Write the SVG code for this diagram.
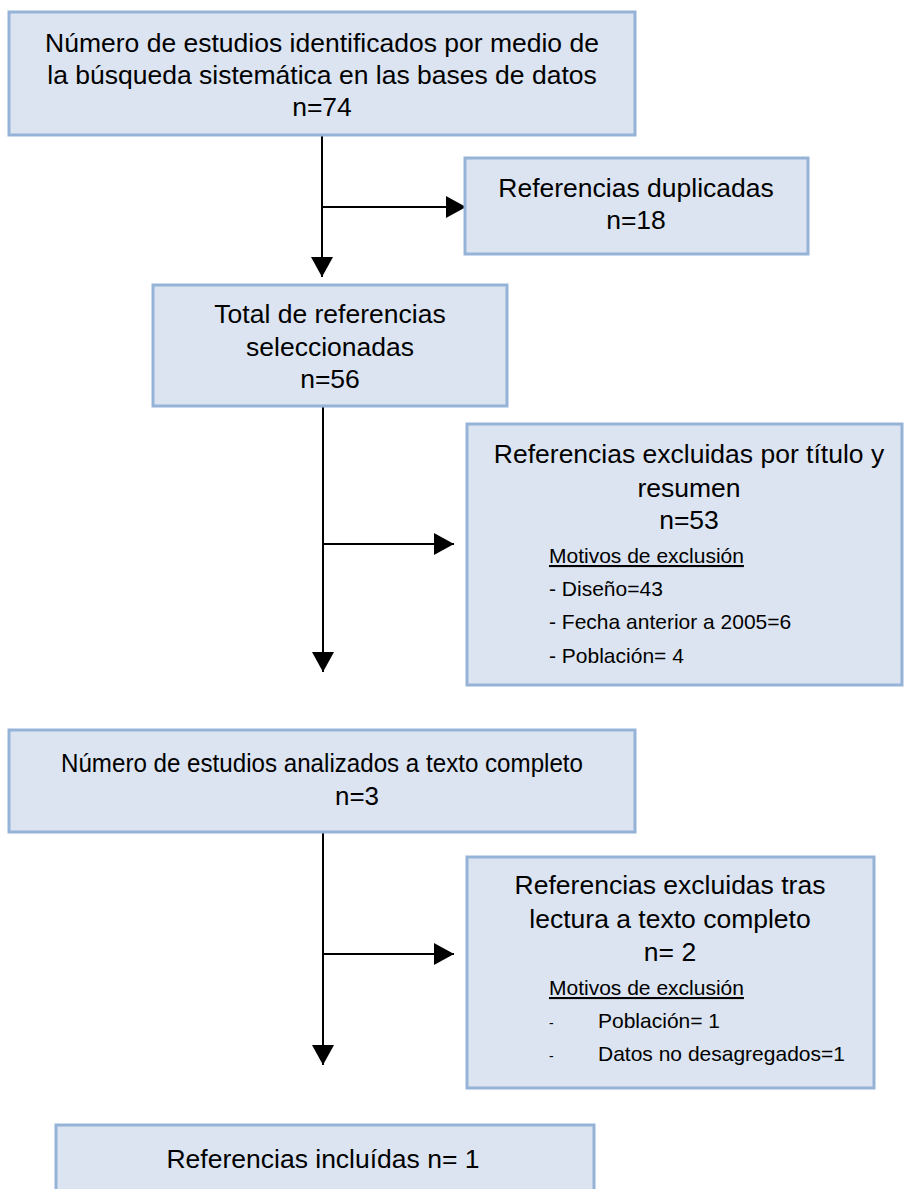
<svg xmlns="http://www.w3.org/2000/svg" width="904" height="1189" viewBox="0 0 904 1189">
<style>
.box{fill:#dbe4f0;stroke:#95b3d7;stroke-width:3}
.t{font-family:"Liberation Sans",Arial,sans-serif;font-size:26.5px;fill:#000;text-anchor:middle}
.s{font-family:"Liberation Sans",Arial,sans-serif;font-size:21px;fill:#000}
.d{font-family:"Liberation Sans",Arial,sans-serif;font-size:14px;fill:#000}
.c{fill:none;stroke:#000;stroke-width:2}
</style>
<defs>
<marker id="ah" viewBox="0 0 20 22" refX="20" refY="11" markerWidth="20" markerHeight="22" markerUnits="userSpaceOnUse" orient="auto"><path d="M0,0 L20,11 L0,22 z" fill="#000"/></marker>
</defs>
<g id="connectors">
<path class="c" d="M322,135 V277" marker-end="url(#ah)"/>
<path class="c" d="M322,207 H466" marker-end="url(#ah)"/>
<path class="c" d="M323,406 V672" marker-end="url(#ah)"/>
<path class="c" d="M323,544 H454" marker-end="url(#ah)"/>
<path class="c" d="M323,832 V1065" marker-end="url(#ah)"/>
<path class="c" d="M323,954 H454" marker-end="url(#ah)"/>
</g>
<g id="n1">
<rect class="box" x="9" y="12" width="626" height="123"/>
<text class="t" x="322" y="52">Número de estudios identificados por medio de</text>
<text class="t" x="322" y="84">la búsqueda sistemática en las bases de datos</text>
<text class="t" x="322" y="116">n=74</text>
</g>
<g id="n2">
<rect class="box" x="465" y="158" width="343" height="96"/>
<text class="t" x="636" y="197">Referencias duplicadas</text>
<text class="t" x="636" y="229">n=18</text>
</g>
<g id="n3">
<rect class="box" x="153" y="285" width="354" height="121"/>
<text class="t" x="330" y="323">Total de referencias</text>
<text class="t" x="330" y="356">seleccionadas</text>
<text class="t" x="330" y="388">n=56</text>
</g>
<g id="n4">
<rect class="box" x="467" y="424" width="435" height="261"/>
<text class="t" x="689" y="463">Referencias excluidas por título y</text>
<text class="t" x="689" y="497">resumen</text>
<text class="t" x="689" y="529">n=53</text>
<text class="s" x="549" y="563" text-decoration="underline">Motivos de exclusión</text>
<text class="s" x="549" y="596">- Diseño=43</text>
<text class="s" x="549" y="629">- Fecha anterior a 2005=6</text>
<text class="s" x="549" y="663">- Población= 4</text>
</g>
<g id="n5">
<rect class="box" x="9" y="730" width="626" height="102"/>
<text class="t" x="322" y="772" textLength="522" lengthAdjust="spacingAndGlyphs">Número de estudios analizados a texto completo</text>
<text class="t" x="357" y="805" textLength="44" lengthAdjust="spacingAndGlyphs">n=3</text>
</g>
<g id="n6">
<rect class="box" x="467" y="857" width="407" height="231"/>
<text class="t" x="670" y="894">Referencias excluidas tras</text>
<text class="t" x="670" y="928">lectura a texto completo</text>
<text class="t" x="670" y="961">n= 2</text>
<text class="s" x="549" y="995" text-decoration="underline">Motivos de exclusión</text>
<text class="d" x="549" y="1028">-</text>
<text class="s" x="598" y="1028">Población= 1</text>
<text class="d" x="549" y="1061">-</text>
<text class="s" x="598" y="1061">Datos no desagregados=1</text>
</g>
<g id="n7">
<rect class="box" x="56" y="1125" width="538" height="80"/>
<text class="t" x="323" y="1168">Referencias incluídas n= 1</text>
</g>
</svg>
